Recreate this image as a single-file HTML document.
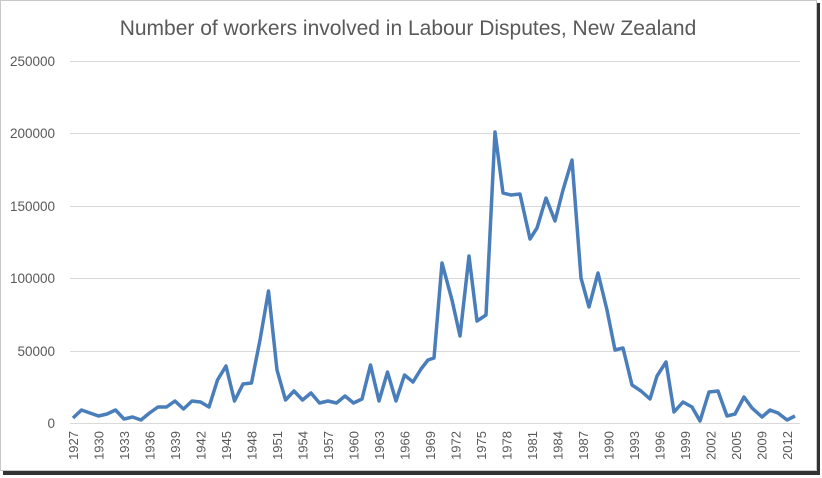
<!DOCTYPE html>
<html><head><meta charset="utf-8"><style>
body{margin:0;width:822px;height:478px;background:#fff;overflow:hidden}
svg{display:block}
text{font-family:"Liberation Sans",sans-serif}
</style></head><body>
<svg width="822" height="478" viewBox="0 0 822 478">
<rect x="0" y="0" width="822" height="478" fill="#fff"/>
<rect x="3" y="3" width="817" height="472" fill="#333"/>
<rect x="0.5" y="0.5" width="816" height="470" fill="#fff" stroke="#c8c8c8"/>
<text x="408" y="35" text-anchor="middle" font-size="21" fill="#595959">Number of workers involved in Labour Disputes, New Zealand</text>
<g stroke="#d9d9d9" stroke-width="1">
<line x1="70" x2="800" y1="61.5" y2="61.5"/>
<line x1="70" x2="800" y1="133.5" y2="133.5"/>
<line x1="70" x2="800" y1="206.5" y2="206.5"/>
<line x1="70" x2="800" y1="278.5" y2="278.5"/>
<line x1="70" x2="800" y1="351.5" y2="351.5"/>
<line x1="70" x2="800" y1="423.5" y2="423.5"/>
</g>
<g font-size="13.5" fill="#595959" text-anchor="end">
<text x="55" y="66">250000</text>
<text x="55" y="138">200000</text>
<text x="55" y="211">150000</text>
<text x="55" y="283">100000</text>
<text x="55" y="356">50000</text>
<text x="55" y="428">0</text>
</g>
<g font-size="13" fill="#595959" text-anchor="end">
<text transform="translate(78,431) rotate(-90)">1927</text>
<text transform="translate(103.5,431) rotate(-90)">1930</text>
<text transform="translate(129,431) rotate(-90)">1933</text>
<text transform="translate(154.5,431) rotate(-90)">1936</text>
<text transform="translate(180,431) rotate(-90)">1939</text>
<text transform="translate(205.5,431) rotate(-90)">1942</text>
<text transform="translate(231,431) rotate(-90)">1945</text>
<text transform="translate(256.5,431) rotate(-90)">1948</text>
<text transform="translate(282,431) rotate(-90)">1951</text>
<text transform="translate(307.5,431) rotate(-90)">1954</text>
<text transform="translate(333,431) rotate(-90)">1957</text>
<text transform="translate(358.5,431) rotate(-90)">1960</text>
<text transform="translate(384,431) rotate(-90)">1963</text>
<text transform="translate(409.5,431) rotate(-90)">1966</text>
<text transform="translate(435,431) rotate(-90)">1969</text>
<text transform="translate(460.5,431) rotate(-90)">1972</text>
<text transform="translate(486,431) rotate(-90)">1975</text>
<text transform="translate(511.5,431) rotate(-90)">1978</text>
<text transform="translate(537,431) rotate(-90)">1981</text>
<text transform="translate(562.5,431) rotate(-90)">1984</text>
<text transform="translate(588,431) rotate(-90)">1987</text>
<text transform="translate(613.5,431) rotate(-90)">1990</text>
<text transform="translate(639,431) rotate(-90)">1993</text>
<text transform="translate(664.5,431) rotate(-90)">1996</text>
<text transform="translate(690,431) rotate(-90)">1999</text>
<text transform="translate(715.5,431) rotate(-90)">2002</text>
<text transform="translate(741,431) rotate(-90)">2005</text>
<text transform="translate(766.5,431) rotate(-90)">2009</text>
<text transform="translate(792,431) rotate(-90)">2012</text>
</g>
<polyline fill="none" stroke="#4a7ebb" stroke-width="3.5" stroke-linejoin="round" points="
73,418 81.5,410 90,413 98.5,416 107,414 115.5,410 124,419 132.5,417 141,420 149.5,413 158,407 166.5,407 175,401 183.5,409 192,401 200.5,402 209,407 217.5,380 226,366 234.5,401 243,384 251.5,383 260,340 268.5,291 277,370 285.5,400 294,391 302.5,400 311,393 319.5,403 328,401 336.5,403 345,396 353.5,403 362,399 370.5,365 379,401 387.5,372 396,401 404.5,375 413,382 421,369 428,360 434,358 442,263 452,300 460,336 469,256 477,321 486,315 495,132 503,193 511,195 520,194 530,239 537,228 546,198 555,221 563,190 572,160 581,278 589,307 598,273 607,310 615,350 623,348 632,385 641,391 650,399 657,376 666,362 674,412 683,402 692,407 700,421 709,392 718,391 727,416 735,414 744,397 752,408 762,417 770,410 778,413 787,420 795,416"/>
</svg>
</body></html>
